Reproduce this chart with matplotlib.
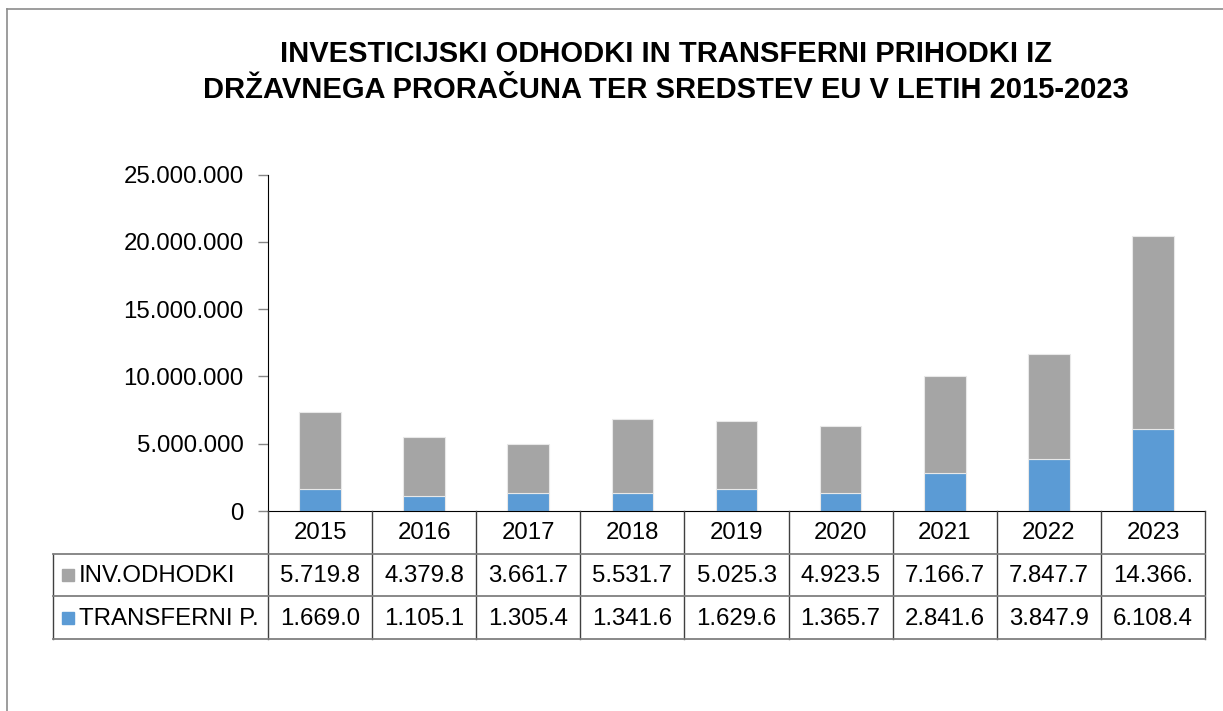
import numpy as np
import matplotlib
matplotlib.use("Agg")
import matplotlib.pyplot as plt
from matplotlib.ticker import FuncFormatter

plt.rcParams['font.family'] = ['Liberation Sans', 'DejaVu Sans']

# data (EUR)
years = ['2015', '2016', '2017', '2018', '2019', '2020', '2021', '2022', '2023']
inv_odhodki = [5719800, 4379800, 3661700, 5531700, 5025300, 4923500, 7166700, 7847700, 14366000]
transferni = [1669000, 1105100, 1305400, 1341600, 1629600, 1365700, 2841600, 3847900, 6108400]
series_names = ['INV.ODHODKI', 'TRANSFERNI P.']
colors = ['#A5A5A5', '#5B9BD5']
title = ('INVESTICIJSKI ODHODKI IN TRANSFERNI PRIHODKI IZ\n'
         'DRŽAVNEGA PRORAČUNA TER SREDSTEV EU V LETIH 2015-2023')

W, H = 1223, 711


def dots(v):
    return '{:,}'.format(int(v)).replace(',', '.')


def cell(v):
    # the table cells in the original clip the text
    return dots(v)[:7]


fig = plt.figure(figsize=(W / 100, H / 100), dpi=100)

# outer chart frame (only top and left are visible)
fig.add_artist(plt.Line2D([7 / W, 1], [1 - 9 / H, 1 - 9 / H], color='#8c8c8c', lw=1.2))
fig.add_artist(plt.Line2D([7 / W, 7 / W], [0, 1 - 9 / H], color='#8c8c8c', lw=1.2))

fig.text(666 / W, 1 - 72 / H, title, ha='center', va='center', fontsize=21,
         fontweight='bold', linespacing=1.4)

# main plot
x0, x1, y0, y1 = 268, 1205, 511, 174.7
ax = fig.add_axes([x0 / W, 1 - y0 / H, (x1 - x0) / W, (y0 - y1) / H])
x = np.arange(len(years))
ax.bar(x, transferni, width=0.4, color=colors[1], edgecolor='#e8e8e8', lw=0.8)
ax.bar(x, inv_odhodki, width=0.4, bottom=transferni, color=colors[0], edgecolor='#e8e8e8', lw=0.8)
ax.set_xlim(-0.5, len(years) - 0.5)
ax.set_ylim(0, 25000000)
ax.set_yticks(np.arange(0, 25000001, 5000000))
ax.yaxis.set_major_formatter(FuncFormatter(lambda v, p: dots(v)))
ax.tick_params(axis='y', length=7, width=1, color='#868686', pad=10.5, labelsize=17.3)
ax.set_xticks([])
for s in ['top', 'right']:
    ax.spines[s].set_visible(False)
ax.spines['left'].set_color('black')
ax.spines['bottom'].set_color('black')

# data table below the plot
tl = 53
ppu = (x1 - x0) / len(years)
tax = fig.add_axes([tl / W, 1 - 639 / H, (x1 - tl) / W, (639 - 511) / H])
left = -0.5 - (x0 - tl) / ppu
tax.set_xlim(left, len(years) - 0.5)
tax.set_ylim(3, 0)
tax.axis('off')
lc = '#404040'
for k in range(len(years) + 1):
    tax.plot([k - 0.5, k - 0.5], [0, 3], color=lc, lw=1, clip_on=False)
tax.plot([left, left], [1, 3], color=lc, lw=1, clip_on=False)
for r in [1, 2, 3]:
    tax.plot([left, len(years) - 0.5], [r, r], color='#7f7f7f', lw=1.3, clip_on=False)

fs = 17.3
for i, yr in enumerate(years):
    tax.text(i, 0.52, yr, ha='center', va='center', fontsize=fs)
    tax.text(i, 1.52, cell(inv_odhodki[i]), ha='center', va='center', fontsize=fs)
    tax.text(i, 2.52, cell(transferni[i]), ha='center', va='center', fontsize=fs)

for r, (name, c) in enumerate(zip(series_names, colors)):
    tax.plot([left + 14.5 / ppu], [r + 1.5], marker='s', ms=8, color=c, clip_on=False)
    tax.text(left + 25.5 / ppu, r + 1.52, name, ha='left', va='center', fontsize=fs)

fig.savefig('out.png', dpi=100)
